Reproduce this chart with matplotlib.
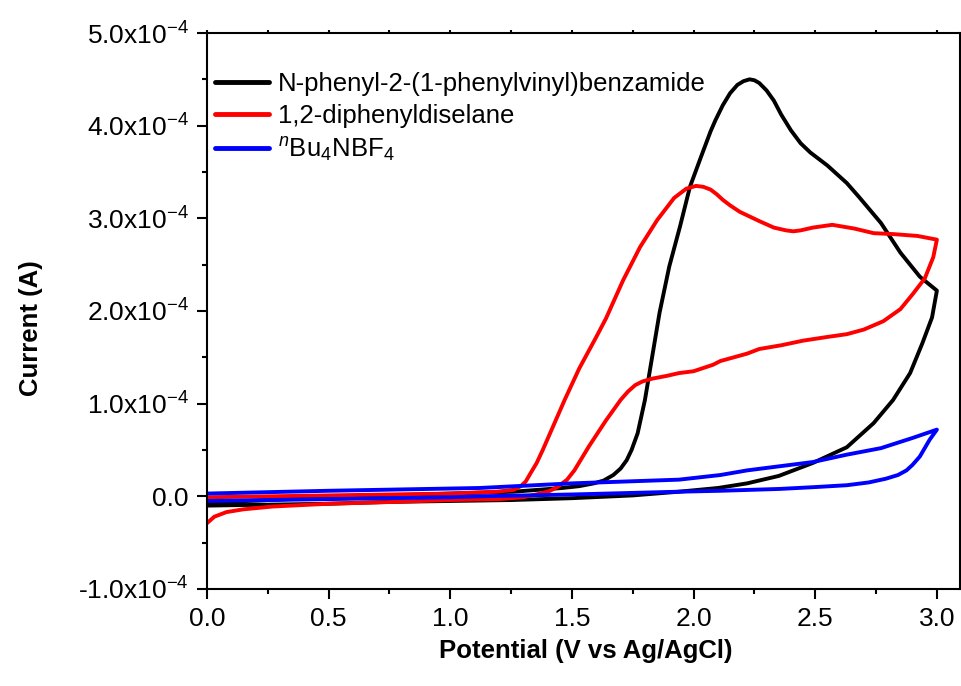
import matplotlib
matplotlib.use('Agg')
import matplotlib.pyplot as plt
from matplotlib.ticker import MultipleLocator, FuncFormatter
import numpy as np

plt.rcParams['font.family'] = ['Liberation Sans', 'DejaVu Sans']
plt.rcParams['mathtext.fontset'] = 'custom'
plt.rcParams['mathtext.rm'] = 'Liberation Sans'
plt.rcParams['mathtext.it'] = 'Liberation Sans:italic'
plt.rcParams['mathtext.default'] = 'regular'

# current values in units of 1e-4 A, potential in V
black_v = [0.00, 0.25, 0.50, 0.75, 1.00, 1.25, 1.50, 1.75, 1.94, 2.10, 2.22, 2.35, 2.49, 2.63,
           2.74, 2.82, 2.89, 2.94, 2.98, 3.00,
           2.93, 2.85, 2.77, 2.68, 2.63, 2.55, 2.52, 2.48, 2.44, 2.40, 2.36, 2.33, 2.30, 2.27,
           2.25, 2.23, 2.205, 2.18, 2.15, 2.12, 2.09, 2.07, 2.03, 1.985, 1.944, 1.90, 1.86,
           1.83, 1.80, 1.77, 1.745, 1.725, 1.70, 1.67, 1.63, 1.59, 1.53, 1.46, 1.26, 1.00,
           0.75, 0.50, 0.25, 0.00]
black_i = [-0.10, -0.09, -0.08, -0.06, -0.05, -0.04, -0.02, 0.01, 0.05, 0.09, 0.14, 0.22, 0.36, 0.53,
           0.79, 1.04, 1.33, 1.65, 1.93, 2.22,
           2.37, 2.63, 2.95, 3.23, 3.38, 3.57, 3.63, 3.71, 3.81, 3.95, 4.12, 4.27, 4.38, 4.46,
           4.49, 4.50, 4.48, 4.44, 4.35, 4.22, 4.06, 3.94, 3.66, 3.34, 2.91, 2.48, 1.98,
           1.51, 1.04, 0.68, 0.50, 0.39, 0.30, 0.23, 0.17, 0.14, 0.11, 0.09, 0.05, 0.03,
           0.01, -0.01, -0.04, -0.07]

red_v = [0.00, 0.03, 0.08, 0.15, 0.27, 0.50, 0.77, 1.00, 1.20, 1.30, 1.37, 1.41, 1.44, 1.48,
         1.51, 1.57, 1.64, 1.70, 1.73, 1.76, 1.79, 1.83, 1.89, 1.94, 2.00, 2.08, 2.11, 2.22,
         2.27, 2.36, 2.45, 2.55, 2.63, 2.70, 2.78, 2.85, 2.90, 2.95, 2.985, 3.00,
         2.92, 2.82, 2.74, 2.66, 2.57, 2.49, 2.44, 2.41, 2.38, 2.33, 2.27, 2.19, 2.15, 2.12,
         2.095, 2.07, 2.04, 2.01, 1.97, 1.92, 1.85, 1.78, 1.71, 1.64, 1.60, 1.53, 1.47, 1.41,
         1.38, 1.355, 1.33, 1.31, 1.29, 1.26, 1.19, 1.00, 0.75, 0.50, 0.25, 0.00]
red_i = [-0.29, -0.22, -0.17, -0.14, -0.11, -0.08, -0.06, -0.04, -0.03, -0.01, 0.03, 0.06, 0.10, 0.18,
         0.28, 0.54, 0.82, 1.04, 1.13, 1.20, 1.24, 1.27, 1.30, 1.33, 1.35, 1.42, 1.46, 1.54,
         1.59, 1.63, 1.68, 1.72, 1.75, 1.80, 1.89, 2.02, 2.18, 2.35, 2.58, 2.77,
         2.81, 2.83, 2.84, 2.89, 2.93, 2.90, 2.87, 2.86, 2.87, 2.90, 2.97, 3.07, 3.14, 3.20,
         3.26, 3.31, 3.34, 3.35, 3.32, 3.22, 2.98, 2.69, 2.33, 1.92, 1.72, 1.38, 1.04, 0.68,
         0.50, 0.36, 0.25, 0.16, 0.11, 0.07, 0.05, 0.03, 0.02, 0.01, 0.00, -0.01]

blue_v = [0.00, 0.50, 1.00, 1.12, 1.50, 1.94, 2.11, 2.355, 2.50, 2.63, 2.72, 2.79, 2.84, 2.875,
          2.90, 2.93, 2.97, 3.00,
          2.90, 2.77, 2.63, 2.49, 2.22, 2.11, 1.94, 1.50, 1.12, 0.50, 0.00]
blue_i = [-0.05, -0.03, -0.01, 0.00, 0.02, 0.05, 0.06, 0.08, 0.10, 0.12, 0.15, 0.19, 0.23, 0.28,
          0.34, 0.43, 0.61, 0.72,
          0.63, 0.52, 0.45, 0.37, 0.28, 0.23, 0.18, 0.14, 0.09, 0.06, 0.03]

labels = ['N-phenyl-2-(1-phenylvinyl)benzamide', '1,2-diphenyldiselane',
          r'$^{\mathit{n}}$Bu$_{4}$NBF$_{4}$']

fig = plt.figure(figsize=(9.62, 6.86), dpi=100)
ax = fig.add_axes([207 / 962, 1 - 589 / 686, 753 / 962, 556 / 686])

scale = 1e-4
style = dict(lw=2.8, solid_joinstyle='round', solid_capstyle='round')
ax.plot(black_v, np.array(black_i) * scale, color='black', label=labels[0], **style)
ax.plot(red_v, np.array(red_i) * scale, color='#ff0000', label=labels[1], **style)
ax.plot(blue_v, np.array(blue_i) * scale, color='#0000ff', label=labels[2], **style)

ax.set_xlim(0, 3.095)
ax.set_ylim(-1e-4, 5e-4)

ax.xaxis.set_major_locator(MultipleLocator(0.5))
ax.xaxis.set_minor_locator(MultipleLocator(0.25))
ax.yaxis.set_major_locator(MultipleLocator(1e-4))
ax.yaxis.set_minor_locator(MultipleLocator(0.5e-4))


def yfmt(v, pos):
    m = v / 1e-4
    if abs(m) < 1e-9:
        return '0.0'
    return '%.1fx10$^{-4}$' % m


ax.yaxis.set_major_formatter(FuncFormatter(yfmt))
ax.xaxis.set_major_formatter(FuncFormatter(lambda v, p: '%.1f' % v))

ax.tick_params(axis='both', which='major', direction='out', length=7, width=1.5,
               labelsize=19, pad=6)
ax.tick_params(axis='both', which='minor', direction='out', length=3.6, width=1.5)
ax.tick_params(axis='x', which='both', top=True, labeltop=False)
# top axis ticks are tiny
for t in ax.xaxis.get_major_ticks() + ax.xaxis.get_minor_ticks():
    t.tick2line.set_markersize(2.5)

for s in ax.spines.values():
    s.set_linewidth(1.5)

ax.set_xlabel('Potential (V vs Ag/AgCl)', fontsize=18.5, fontweight='bold')
ax.set_ylabel('Current (A)', fontsize=18.5, fontweight='bold')
ax.xaxis.set_label_coords(0.503, -0.09)
ax.yaxis.set_label_coords(-0.218, 0.47)

leg = ax.legend(loc='upper left', frameon=False, fontsize=18.5, handlelength=2.1,
                handletextpad=0.35, labelspacing=0.3, borderaxespad=0.0,
                bbox_to_anchor=(-0.003, 0.948))
for line in leg.get_lines():
    line.set_linewidth(3.5)

fig.savefig('out.png', dpi=100)
